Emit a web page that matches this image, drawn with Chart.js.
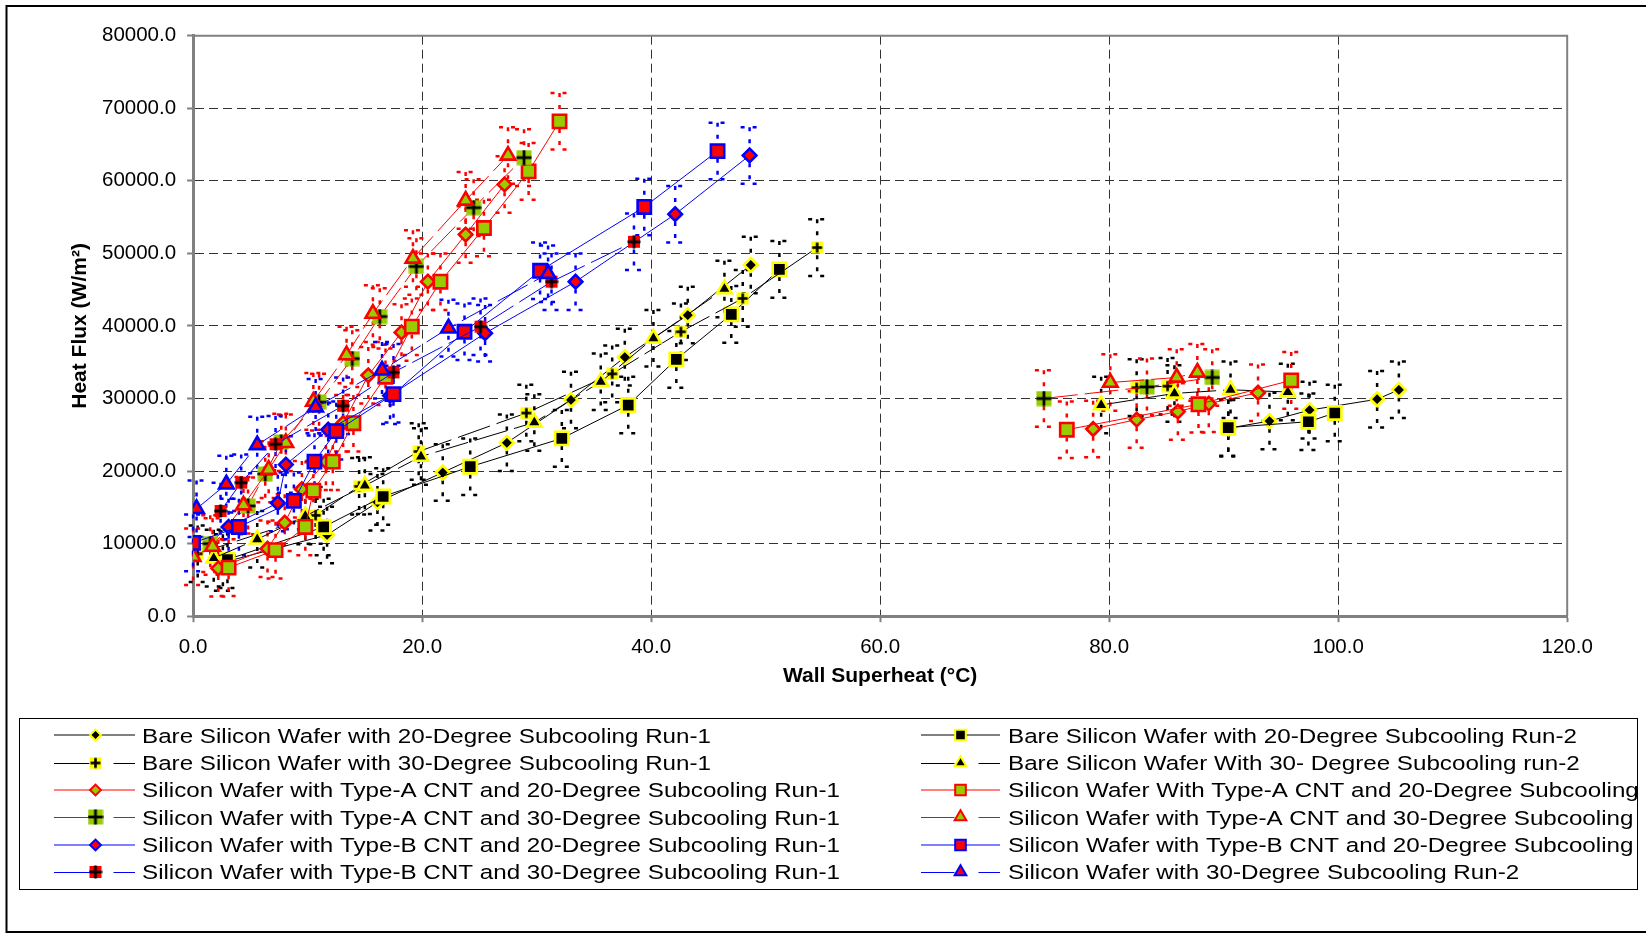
<!DOCTYPE html>
<html>
<head>
<meta charset="utf-8">
<script src="https://cdn.jsdelivr.net/npm/chart.js@4.4.1/dist/chart.umd.min.js"></script>
<style>
html,body{margin:0;padding:0;background:#fff;}
canvas{display:block;}
</style>
</head>
<body>
<canvas id="c" width="1646" height="935"></canvas>
<script>
// ---------------- DATA ----------------
const seriesLabels = [
  "Bare Silicon Wafer with 20-Degree Subcooling Run-1",
  "Bare Silicon Wafer with 20-Degree Subcooling Run-2",
  "Bare Silicon Wafer with 30-Degree Subcooling Run-1",
  "Bare Silicon Wafer With 30- Degree Subcooling run-2",
  "Silicon Wafer with Type-A CNT and 20-Degree Subcooling Run-1",
  "Silicon Wafer With Type-A CNT and 20-Degree Subcooling Run-2",
  "Silicon Wafer with Type-A CNT and 30-Degree Subcooling Run-1",
  "Silicon Wafer with Type-A CNT and 30-Degree Subcooling Run-2",
  "Silicon Wafer with Type-B CNT and 20-Degree Subcooling Run-1",
  "Silicon Wafer with Type-B CNT and 20-Degree Subcooling Run-2",
  "Silicon Wafer with Type-B CNT and 30-Degree Subcooling Run-1",
  "Silicon Wafer with 30-Degree Subcooling Run-2"
];

const bare20r1X = [2.6, 11.7, 16.1, 21.8, 27.4, 33.0, 37.7, 43.2, 48.7, null, 90.4, 94.0, 97.5, 103.4, 105.3];
const bare20r1Y = [7400, 11200, 15700, 19800, 23900, 29800, 35700, 41500, 48400, null, 25900, 26900, 28400, 29900, 31200];
const bare20r2X = [3.0, 11.4, 16.6, 24.2, 32.2, 38.0, 42.2, 47.0, 51.2, null, 90.4, 97.4, 99.7];
const bare20r2Y = [7800, 12300, 16500, 20600, 24500, 29100, 35400, 41600, 47800, null, 26000, 26800, 28000];
const bare30r1X = [0.4, 10.7, 14.5, 19.7, 29.1, 36.6, 42.6, 48.0, 54.5, null, 82.4, 85.1];
const bare30r1Y = [8600, 13900, 17900, 22700, 28000, 33400, 39200, 43800, 50800, null, 31500, 31700];
const bare30r2X = [1.8, 5.6, 9.8, 15.0, 19.9, 29.8, 35.6, 40.2, 46.4, null, 79.3, 85.7, 90.6, 95.6];
const bare30r2Y = [8000, 10600, 13800, 18000, 22000, 26700, 32300, 38300, 45100, null, 29100, 30700, 31200, 30900];
const cntA20r1X = [2.2, 6.5, 8.0, 9.5, 11.6, 13.1, 15.3, 18.2, 20.5, 23.8, 27.2, null, 78.6, 82.4, 86.0, 88.7, 93.0];
const cntA20r1Y = [6600, 9300, 12900, 17500, 21300, 26600, 33200, 39100, 46100, 52600, 59500, null, 25800, 27100, 28200, 29300, 30800];
const cntA20r2X = [3.1, 7.2, 9.8, 10.5, 12.2, 14.0, 16.8, 19.1, 21.6, 25.4, 29.3, 32.0, null, 76.3, 87.8, 95.9];
const cntA20r2Y = [6700, 9100, 12300, 17300, 21300, 26600, 33000, 39900, 46100, 53500, 61300, 68200, null, 25700, 29200, 32500];
const cntA30r1X = [1.5, 4.8, 6.3, 7.7, 11.0, 13.9, 16.3, 19.5, 24.5, 28.9, null, 74.3, 83.3, 89.0];
const cntA30r1Y = [10000, 15200, 19600, 24000, 29500, 35500, 41300, 48200, 56300, 63200, null, 30000, 31600, 32900];
const cntA30r2X = [0.0, 1.7, 4.4, 6.6, 8.1, 10.5, 13.4, 15.7, 19.2, 23.8, 27.5, null, 80.1, 85.9, 87.7];
const cntA30r2Y = [8200, 9600, 15300, 20200, 23900, 29600, 36000, 41700, 49300, 57300, 63500, null, 32200, 32900, 33600];
const cntB20r1X = [3.1, 7.4, 8.1, 11.8, 17.2, 25.5, 33.4, 42.1, 48.6];
const cntB20r1Y = [12300, 15600, 20900, 25700, 30400, 39000, 46100, 55400, 63500];
const cntB20r2X = [0.0, 4.0, 8.8, 10.6, 12.5, 17.5, 23.7, 30.3, 39.4, 45.8];
const cntB20r2Y = [10100, 12300, 15900, 21300, 25500, 30600, 39200, 47600, 56400, 64100];
const cntB30r1X = [2.4, 4.2, 7.2, 13.1, 17.5, 25.1, 31.3, 38.5];
const cntB30r1Y = [14500, 18400, 23700, 29000, 33600, 39900, 46100, 51600];
const cntB30r2X = [0.3, 2.9, 5.6, 10.7, 16.5, 22.3, 31.0];
const cntB30r2Y = [14800, 18200, 23600, 28800, 33900, 39700, 47200];

// half-length of the heat-flux error bars (W/m^2)
const heatFluxError = 3900;

// axis ranges / ticks
const xMin = 0, xMax = 120, xStep = 20;
const yMin = 0, yMax = 80000, yStep = 10000;

// ---------------- STYLE ----------------
const YEL = '#ffff00', BLK = '#000000', GRN = '#99cc00', RED = '#ff0000', BLU = '#0000ff';
const FONT = '"Liberation Sans", Arial, sans-serif';
const LONG_DASH = [34, 7];
const R_DIAMOND = 6.8, R_SQUARE = 9.4, R_TRIANGLE = 8.4;

function plusMarker(size, bg, bgSize, plusLen, plusW, plusColor) {
  const c = document.createElement('canvas');
  c.width = size; c.height = size;
  const g = c.getContext('2d');
  const m = size / 2;
  g.fillStyle = bg;
  g.fillRect(m - bgSize / 2, m - bgSize / 2, bgSize, bgSize);
  g.fillStyle = plusColor;
  g.fillRect(m - plusLen / 2, m - plusW / 2, plusLen, plusW);
  g.fillRect(m - plusW / 2, m - plusLen / 2, plusW, plusLen);
  return c;
}
const yellowPlus = plusMarker(13, YEL, 12, 10, 2.6, BLK);
const greenPlus = plusMarker(16, GRN, 15, 15, 2.8, BLK);
const redPlus = plusMarker(14, RED, 12, 13, 2.8, BLK);

function pts(xs, ys) {
  return xs.map((x, i) => ({ x: x, y: ys[i] }));
}

function series(idx, xs, ys, o) {
  return Object.assign({
    label: seriesLabels[idx],
    data: pts(xs, ys),
    showLine: true,
    tension: 0,
    spanGaps: false,
    borderWidth: 1,
    pointBorderWidth: 2.6,
    pointHoverRadius: 0,
    order: 11 - idx
  }, o);
}

const datasets = [
  series(0, bare20r1X, bare20r1Y, { borderColor: BLK, pointStyle: 'rectRot', pointRadius: R_DIAMOND, pointBackgroundColor: BLK, pointBorderColor: YEL, errColor: BLK }),
  series(1, bare20r2X, bare20r2Y, { borderColor: BLK, pointStyle: 'rect', pointRadius: R_SQUARE, pointBackgroundColor: BLK, pointBorderColor: YEL, errColor: BLK }),
  series(2, bare30r1X, bare30r1Y, { borderColor: BLK, borderDash: LONG_DASH, pointStyle: yellowPlus, pointRadius: 7, pointBackgroundColor: YEL, pointBorderColor: BLK, errColor: BLK, longDash: true }),
  series(3, bare30r2X, bare30r2Y, { borderColor: BLK, borderDash: LONG_DASH, pointStyle: 'triangle', pointRadius: R_TRIANGLE, pointBackgroundColor: BLK, pointBorderColor: YEL, errColor: BLK, longDash: true }),
  series(4, cntA20r1X, cntA20r1Y, { borderColor: RED, pointStyle: 'rectRot', pointRadius: R_DIAMOND, pointBackgroundColor: GRN, pointBorderColor: RED, errColor: RED }),
  series(5, cntA20r2X, cntA20r2Y, { borderColor: RED, pointStyle: 'rect', pointRadius: R_SQUARE, pointBackgroundColor: GRN, pointBorderColor: RED, errColor: RED }),
  series(6, cntA30r1X, cntA30r1Y, { borderColor: RED, borderDash: LONG_DASH, pointStyle: greenPlus, pointRadius: 8, pointBackgroundColor: GRN, pointBorderColor: BLK, errColor: RED, longDash: true }),
  series(7, cntA30r2X, cntA30r2Y, { borderColor: RED, borderDash: LONG_DASH, pointStyle: 'triangle', pointRadius: R_TRIANGLE, pointBackgroundColor: GRN, pointBorderColor: RED, errColor: RED, longDash: true }),
  series(8, cntB20r1X, cntB20r1Y, { borderColor: BLU, pointStyle: 'rectRot', pointRadius: R_DIAMOND, pointBackgroundColor: RED, pointBorderColor: BLU, errColor: BLU }),
  series(9, cntB20r2X, cntB20r2Y, { borderColor: BLU, pointStyle: 'rect', pointRadius: R_SQUARE, pointBackgroundColor: RED, pointBorderColor: BLU, errColor: BLU }),
  series(10, cntB30r1X, cntB30r1Y, { borderColor: BLU, borderDash: LONG_DASH, pointStyle: redPlus, pointRadius: 7, pointBackgroundColor: RED, pointBorderColor: BLK, errColor: BLU, longDash: true }),
  series(11, cntB30r2X, cntB30r2Y, { borderColor: BLU, borderDash: LONG_DASH, pointStyle: 'triangle', pointRadius: R_TRIANGLE, pointBackgroundColor: RED, pointBorderColor: BLU, errColor: BLU, longDash: true })
];

// ---------------- PLUGINS ----------------
const framePlugin = {
  id: 'frame',
  beforeDatasetsDraw(chart) {
    const { ctx, chartArea: a } = chart;
    ctx.save();
    ctx.strokeStyle = '#808080';
    ctx.lineWidth = 2;
    ctx.beginPath();
    ctx.moveTo(a.left, a.top);
    ctx.lineTo(a.right, a.top);
    ctx.lineTo(a.right, a.bottom);
    ctx.stroke();
    ctx.restore();
  }
};

const errorBarPlugin = {
  id: 'errorBars',
  beforeDatasetsDraw(chart) {
    const { ctx } = chart;
    const xs = chart.scales.x, ys = chart.scales.y;
    ctx.save();
    ctx.lineWidth = 2.5;
    ctx.setLineDash([4, 8]);
    chart.data.datasets.forEach(ds => {
      ctx.strokeStyle = ds.errColor;
      ds.data.forEach(p => {
        if (p.x === null || p.y === null) return;
        const px = xs.getPixelForValue(p.x);
        const top = ys.getPixelForValue(p.y + heatFluxError);
        const bot = ys.getPixelForValue(p.y - heatFluxError);
        ctx.beginPath();
        ctx.moveTo(px, top); ctx.lineTo(px, bot);
        ctx.stroke();
        ctx.beginPath();
        ctx.moveTo(px - 9, top); ctx.lineTo(px + 9, top);
        ctx.moveTo(px - 9, bot); ctx.lineTo(px + 9, bot);
        ctx.stroke();
      });
    });
    ctx.restore();
  }
};

const legendPlugin = {
  id: 'boxLegend',
  afterDraw(chart) {
    const { ctx } = chart;
    ctx.save();
    // outer chart border
    ctx.strokeStyle = '#000';
    ctx.lineWidth = 2;
    ctx.strokeRect(6.5, 6, 1700, 926);
    // legend box
    ctx.lineWidth = 1;
    ctx.strokeStyle = '#000';
    ctx.fillStyle = '#fff';
    ctx.fillRect(19.5, 718.5, 1618, 171);
    ctx.strokeRect(19.5, 718.5, 1618, 171);
    ctx.beginPath();
    ctx.rect(20, 719, 1617, 170);
    ctx.clip();

    ctx.font = '20.5px ' + FONT;
    const sx = 569 / ctx.measureText(chart.data.datasets[0].label).width;

    chart.data.datasets.forEach((ds, i) => {
      const col = i % 2, row = Math.floor(i / 2);
      const cy = 735.3 + row * 27.3;
      const x1 = col ? 921 : 54, x2 = col ? 1000 : 135;
      const mx = col ? 960.5 : 95.5;
      const tx = col ? 1008 : 142;
      // line sample
      ctx.save();
      ctx.strokeStyle = ds.borderColor;
      ctx.lineWidth = 1;
      ctx.beginPath();
      if (ds.longDash) {
        const ly = Math.round(cy) + 0.5;
        ctx.moveTo(x1, ly); ctx.lineTo(mx - 6, ly);
        ctx.moveTo(mx + 18, ly); ctx.lineTo(x2, ly);
      } else {
        const ly = Math.round(cy);
        ctx.moveTo(x1, ly); ctx.lineTo(x2, ly);
      }
      ctx.stroke();
      // marker (legend markers are a bit smaller)
      ctx.fillStyle = ds.pointBackgroundColor;
      ctx.strokeStyle = ds.pointBorderColor;
      ctx.lineWidth = 2;
      const r = typeof ds.pointStyle === 'string' ? ds.pointRadius * 0.8 : ds.pointRadius;
      Chart.helpers.drawPoint(ctx, { pointStyle: ds.pointStyle, radius: r, borderWidth: 2, rotation: 0 }, mx, Math.round(cy));
      ctx.restore();
      // text
      ctx.save();
      ctx.fillStyle = '#000';
      ctx.font = '20.5px ' + FONT;
      ctx.textAlign = 'left';
      ctx.textBaseline = 'alphabetic';
      ctx.translate(tx, cy + 7.4);
      ctx.scale(sx, 1);
      ctx.fillText(ds.label, 0, 0);
      ctx.restore();
    });
    ctx.restore();
  }
};

// ---------------- CHART ----------------
new Chart(document.getElementById('c'), {
  type: 'scatter',
  data: { datasets },
  options: {
    responsive: false,
    animation: false,
    devicePixelRatio: 1,
    events: [],
    layout: { padding: { left: 0, right: 78.8, top: 35.7, bottom: 238.8 } },
    plugins: { legend: { display: false }, tooltip: { enabled: false } },
    scales: {
      x: {
        type: 'linear',
        min: xMin, max: xMax,
        afterFit(s) { s.height = 80; },
        ticks: { stepSize: xStep, padding: 13, color: '#000', font: { family: FONT, size: 20.5 }, callback: v => v.toFixed(1) },
        grid: { color: '#333', lineWidth: 1, tickLength: 6, tickColor: '#808080', tickWidth: 2 },
        border: { display: true, color: '#808080', width: 3, dash: [9, 5] },
        title: { display: true, text: 'Wall Superheat (°C)', color: '#000', font: { family: FONT, size: 21, weight: 'bold' }, padding: { top: 7.6, bottom: 7.6 } }
      },
      y: {
        type: 'linear',
        min: yMin, max: yMax,
        afterFit(s) { s.width = 193.1; },
        ticks: { stepSize: yStep, padding: 11, color: '#000', font: { family: FONT, size: 20.5 }, callback: v => v.toFixed(1) },
        grid: { color: '#333', lineWidth: 1, tickLength: 6, tickColor: '#808080', tickWidth: 2 },
        border: { display: true, color: '#808080', width: 3, dash: [9, 5] },
        title: { display: true, text: 'Heat Flux (W/m²)', color: '#000', font: { family: FONT, size: 21, weight: 'bold' }, padding: { top: 67.4, bottom: 0 } }
      }
    }
  },
  plugins: [framePlugin, errorBarPlugin, legendPlugin]
});
</script>
</body>
</html>
